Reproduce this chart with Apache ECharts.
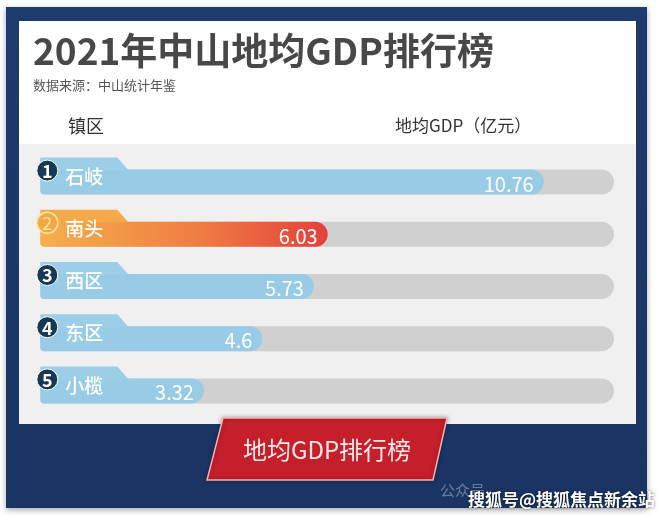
<!DOCTYPE html>
<html>
<head>
<meta charset="utf-8">
<script src="https://cdn.jsdelivr.net/npm/echarts@6/dist/echarts.min.js"></script>
<style>
html,body{margin:0;padding:0;background:#fff;}
#main{width:660px;height:521px;}
</style>
</head>
<body>
<div id="main"></div>
<script>
// ---- data ----
const towns = ['石岐', '南头', '西区', '东区', '小榄'];
const gdp = [10.76, 6.03, 5.73, 4.6, 3.32];
const ranks = ['1', '2', '3', '4', '5'];
const titleText = '2021年中山地均GDP排行榜';
const sourceText = '数据来源：中山统计年鉴';
const headerLeft = '镇区';
const headerRight = '地均GDP（亿元）';
const bannerText = '地均GDP排行榜';
const watermarkText = '搜狐号@搜狐焦点新余站';

const FONT = '"Noto Sans CJK SC", "Noto Sans", sans-serif';
const XMAX = 12.3;
const chart = echarts.init(document.getElementById('main'));

function renderItem(params, api) {
  const i = api.value(1);
  const v = api.value(0);
  const c0 = api.coord([0, i]);
  const cv = api.coord([v, i]);
  const cm = api.coord([XMAX, i]);
  const h = 25;
  const top = c0[1] - h / 2;
  const x0 = c0[0] - 12;
  const hot = i === 1;
  const barColor = hot
    ? new echarts.graphic.LinearGradient(0, 0, 1, 0, [
        { offset: 0, color: '#f6b04b' },
        { offset: 0.55, color: '#ef7d43' },
        { offset: 1, color: '#e3403b' }
      ])
    : '#97cbe6';
  const tabColor = hot ? '#f4aa4a' : '#9ccee8';
  return {
    type: 'group',
    children: [
      { type: 'rect', shape: { x: x0, y: top, width: cm[0] - x0, height: h, r: [4, 12.5, 12.5, 4] },
        style: { fill: '#d0d0d0' } },
      { type: 'rect', shape: { x: x0, y: top, width: cv[0] - x0, height: h, r: [0, 12.5, 12.5, 4] },
        style: { fill: barColor } },
      { type: 'polygon', shape: { points: [[x0, top - 12], [x0 + 77, top - 12], [x0 + 88, top + 0.5], [x0, top + 0.5]] },
        style: { fill: tabColor } },
      { type: 'circle', shape: { cx: x0 + 7, cy: top + 1, r: 10.5 },
        style: hot ? { fill: '#f3a845', stroke: '#fde4a0', lineWidth: 1.6 } : { fill: '#173a54', stroke: '#ffffff', lineWidth: 1 } },
      { type: 'text', x: x0 + 7, y: top + 1.5,
        style: { text: ranks[i], fill: hot ? '#fde4a0' : '#ffffff', font: (hot ? '' : 'bold ') + '18px ' + FONT, align: 'center', verticalAlign: 'middle' } },
      { type: 'text', x: x0 + 25, y: top + 7,
        style: { text: towns[i], fill: '#ffffff', font: '500 19px ' + FONT, align: 'left', verticalAlign: 'middle' } },
      { type: 'text', x: cv[0] - 10, y: c0[1] + 2,
        style: { text: String(gdp[i]), fill: '#ffffff', font: '20px ' + FONT, align: 'right', verticalAlign: 'middle' } }
    ]
  };
}

const option = {
  animation: false,
  backgroundColor: '#ffffff',
  title: {
    text: titleText,
    subtext: sourceText,
    left: 33,
    top: 32,
    padding: 0,
    itemGap: 10,
    textStyle: { fontFamily: FONT, fontSize: 37, fontWeight: 'bold', color: '#484848' },
    subtextStyle: { fontFamily: FONT, fontSize: 13, color: '#555555' }
  },
  grid: { left: 52.3, right: 46, top: 156, height: 261, containLabel: false },
  xAxis: { type: 'value', min: 0, max: XMAX, show: false },
  yAxis: { type: 'category', data: towns, inverse: true, show: false },
  graphic: [
    { type: 'rect', z: -10, shape: { x: 6, y: 7, width: 641, height: 501 },
      style: { fill: new echarts.graphic.LinearGradient(0, 0, 0, 1, [
        { offset: 0, color: '#1e3b6e' }, { offset: 1, color: '#1a3463' }]),
        shadowBlur: 6, shadowColor: 'rgba(0,0,0,0.35)', shadowOffsetY: 2 } },
    { type: 'rect', z: -9, shape: { x: 19, y: 21, width: 617, height: 403 }, style: { fill: '#ffffff' } },
    { type: 'rect', z: -8, shape: { x: 19, y: 144, width: 617, height: 280 }, style: { fill: '#f0f0f0' } },
    { type: 'text', z: 5, x: 68, y: 126,
      style: { text: headerLeft, font: '18px ' + FONT, fill: '#333333', verticalAlign: 'middle' } },
    { type: 'text', z: 5, x: 395, y: 126,
      style: { text: headerRight, font: '17px ' + FONT, fill: '#333333', verticalAlign: 'middle' } },
    { type: 'polygon', z: 20, shape: { points: [[223, 418], [447, 418], [433, 480], [207, 480]] },
      style: { fill: '#c41f2b', stroke: '#f4b3b3', lineWidth: 1.5, shadowBlur: 4, shadowColor: 'rgba(0,0,0,0.3)' } },
    { type: 'text', z: 21, x: 327, y: 450,
      style: { text: bannerText, font: '24px ' + FONT, fill: '#fde9e9', align: 'center', verticalAlign: 'middle' } },
    { type: 'text', z: 21, x: 440, y: 490,
      style: { text: '公众号', font: '15px ' + FONT, fill: 'rgba(255,255,255,0.35)', verticalAlign: 'middle' } },
    { type: 'text', z: 22, x: 655, y: 500,
      style: { text: watermarkText, font: 'bold 17px ' + FONT, fill: '#ffffff', align: 'right', verticalAlign: 'middle',
        textShadowColor: 'rgba(0,0,0,0.6)', textShadowBlur: 3 } }
  ],
  series: [{
    type: 'custom',
    renderItem: renderItem,
    encode: { x: 0, y: 1 },
    data: gdp.map((v, i) => [v, i]),
    z: 10
  }]
};
chart.setOption(option);
</script>
</body>
</html>
